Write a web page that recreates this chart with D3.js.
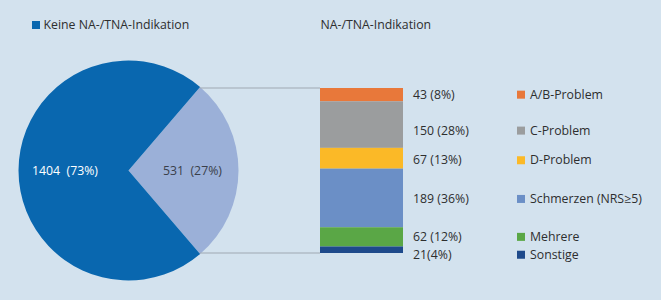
<!DOCTYPE html>
<html><head><meta charset="utf-8">
<script src="https://cdn.jsdelivr.net/npm/d3@7"></script>
<style>
html,body{margin:0;padding:0;background:#d3e2ee;}
svg{display:block;font-family:"Open Sans",sans-serif;}
text{white-space:pre;}
</style></head><body>
<svg id="c" width="661" height="300"></svg>
<script>
// Data
const pieCategories = ["NA-/TNA-Indikation", "Keine NA-/TNA-Indikation"];
const pieValues = [531, 1404];
const pieLabels = ["531  (27%)", "1404  (73%)"];
const barCategories = ["A/B-Problem", "C-Problem", "D-Problem", "Schmerzen (NRS\u22655)", "Mehrere", "Sonstige"];
const barValues = [43, 150, 67, 189, 62, 21];
const barLabels = ["43 (8%)", "150 (28%)", "67 (13%)", "189 (36%)", "62 (12%)", "21(4%)"];

const pieColors = ["#9bb0d8", "#0967af"];
const barColors = ["#e8783a", "#9b9d9e", "#fbb927", "#6b8fc6", "#5aa746", "#1e4a8b"];
const textColor = "#2e2e2e";
const labelNudge = [0, 6, 2, 1, 0, 5];
const fs = 12.3;

const svg = d3.select("#c");
svg.append("rect").attr("width", 661).attr("height", 300).attr("fill", "#d3e2ee");

const cx = 128.5, cy = 170.5, r = 110;
const total = d3.sum(pieValues);
const frac = pieValues[0] / total;
const pie = d3.pie().sort(null).value(d => d)
  .startAngle(Math.PI / 2 - frac * Math.PI)
  .endAngle(Math.PI / 2 - frac * Math.PI + 2 * Math.PI);
const arcs = pie(pieValues);
const arc = d3.arc().innerRadius(0).outerRadius(r);
const g = svg.append("g").attr("transform", `translate(${cx},${cy})`);
g.selectAll("path").data(arcs).join("path")
  .attr("d", arc).attr("fill", (d, i) => pieColors[i]);

// pie labels
svg.append("text").attr("x", 163).attr("y", 175).attr("font-size", fs)
  .attr("fill", "#3a3f4a").text(pieLabels[0]);
svg.append("text").attr("x", 32).attr("y", 175).attr("font-size", fs)
  .attr("fill", "#ffffff").text(pieLabels[1]);

// bar
const barX = 320, barW = 83;
const y = d3.scaleLinear().domain([0, d3.sum(barValues)]).range([88, 253]);
const cum = [];
barValues.reduce((a, v, i) => { cum.push(a); return a + v; }, 0);

// connector lines from slice edge to bar
const a0 = arcs[0].startAngle, a1 = arcs[0].endAngle;
const p0 = [cx + r * Math.sin(a0), cy - r * Math.cos(a0)];
const p1 = [cx + r * Math.sin(a1), cy - r * Math.cos(a1)];
svg.append("line").attr("x1", p0[0]).attr("y1", y(0)).attr("x2", barX).attr("y2", y(0))
  .attr("stroke", "#9fa8b2").attr("stroke-width", 1);
svg.append("line").attr("x1", p1[0]).attr("y1", y(d3.sum(barValues))).attr("x2", barX).attr("y2", y(d3.sum(barValues)))
  .attr("stroke", "#9fa8b2").attr("stroke-width", 1);

svg.selectAll("rect.seg").data(barValues).join("rect").attr("class", "seg")
  .attr("x", barX).attr("width", barW)
  .attr("y", (d, i) => y(cum[i]))
  .attr("height", (d, i) => y(cum[i] + d) - y(cum[i]))
  .attr("fill", (d, i) => barColors[i]);

const mid = i => (y(cum[i]) + y(cum[i] + barValues[i])) / 2 + labelNudge[i];
svg.selectAll("text.bl").data(barLabels).join("text").attr("class", "bl")
  .attr("x", 413).attr("y", (d, i) => mid(i) + 4).attr("font-size", fs)
  .attr("fill", textColor).text(d => d);

// right legend
svg.selectAll("rect.lg").data(barCategories).join("rect").attr("class", "lg")
  .attr("x", 517).attr("y", (d, i) => mid(i) - 4).attr("width", 8).attr("height", 8)
  .attr("fill", (d, i) => barColors[i]);
svg.selectAll("text.lg").data(barCategories).join("text").attr("class", "lg")
  .attr("x", 530).attr("y", (d, i) => mid(i) + 4).attr("font-size", fs)
  .attr("fill", textColor).text(d => d);

// top legend / titles
svg.append("rect").attr("x", 32).attr("y", 21).attr("width", 8).attr("height", 8).attr("fill", pieColors[1]);
svg.append("text").attr("x", 43.5).attr("y", 29).attr("font-size", fs).attr("fill", textColor).text(pieCategories[1]);
svg.append("text").attr("x", 320.5).attr("y", 29).attr("font-size", fs).attr("fill", textColor).text(pieCategories[0]);
</script>
</body></html>
